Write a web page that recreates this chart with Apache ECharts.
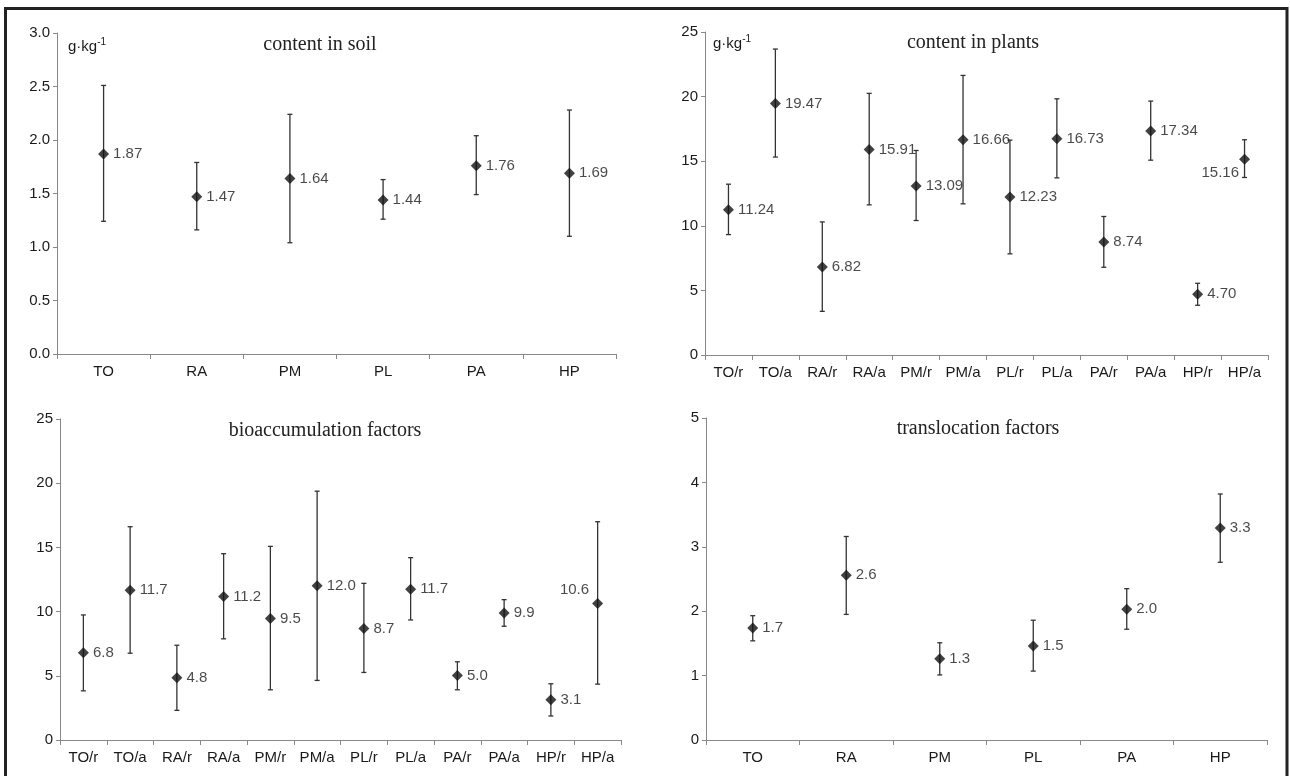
<!DOCTYPE html>
<html>
<head>
<meta charset="utf-8">
<script src="https://cdn.jsdelivr.net/npm/echarts@6/dist/echarts.min.js"></script>
<style>
    html, body { margin: 0; padding: 0; background: #fff; }
    #main { width: 1290px; height: 776px; }
</style>
</head>
<body>
<div id="main"></div>
<script>
// categories
var soilCats = ['TO', 'RA', 'PM', 'PL', 'PA', 'HP'];
var plantCats = ['TO/r', 'TO/a', 'RA/r', 'RA/a', 'PM/r', 'PM/a', 'PL/r', 'PL/a', 'PA/r', 'PA/a', 'HP/r', 'HP/a'];

// content in soil
var soilMean = [1.87, 1.47, 1.64, 1.44, 1.76, 1.69];
var soilLow = [1.24, 1.16, 1.04, 1.26, 1.49, 1.10];
var soilHigh = [2.51, 1.79, 2.24, 1.63, 2.04, 2.28];

// content in plants
var plantMean = [11.24, 19.47, 6.82, 15.91, 13.09, 16.66, 12.23, 16.73, 8.74, 17.34, 4.70, 15.16];
var plantLow = [9.32, 15.32, 3.38, 11.62, 10.41, 11.70, 7.83, 13.71, 6.79, 15.08, 3.85, 13.74];
var plantHigh = [13.22, 23.68, 10.30, 20.25, 15.83, 21.64, 16.63, 19.83, 10.72, 19.65, 5.55, 16.66];

// bioaccumulation factors
var bafMean = [6.79, 11.66, 4.84, 11.17, 9.46, 12.02, 8.68, 11.74, 5.03, 9.90, 3.13, 10.64];
var bafLow = [3.83, 6.76, 2.31, 7.88, 3.91, 4.64, 5.26, 9.35, 3.91, 8.86, 1.87, 4.35];
var bafHigh = [9.74, 16.61, 7.38, 14.51, 15.08, 19.38, 12.20, 14.20, 6.09, 10.93, 4.38, 17.00];

// translocation factors
var tfMean = [1.74, 2.56, 1.26, 1.46, 2.03, 3.29];
var tfLow = [1.54, 1.95, 1.01, 1.07, 1.72, 2.76];
var tfHigh = [1.93, 3.16, 1.51, 1.86, 2.35, 3.82];

var panelTitles = ['content in soil', 'content in plants', 'bioaccumulation factors', 'translocation factors'];

var FONT = 'Liberation Sans, Arial, sans-serif';
var TXT = '#1a1a1a';

var chart = echarts.init(document.getElementById('main'));

function xAxisFor(idx, cats) {
    return {
        type: 'category',
        gridIndex: idx,
        data: cats,
        boundaryGap: true,
        axisLine: { lineStyle: { color: '#888', width: 1 } },
        axisTick: { show: true, length: 5, lineStyle: { color: '#888' } },
        axisLabel: { fontFamily: FONT, fontSize: 15, color: TXT, margin: 10, interval: 0 },
        splitLine: { show: false }
    };
}

function yAxisFor(idx, max, step, digits) {
    return {
        type: 'value',
        gridIndex: idx,
        min: 0,
        max: max,
        interval: step,
        axisLine: { show: true, lineStyle: { color: '#888', width: 1 } },
        axisTick: { show: true, length: 4, lineStyle: { color: '#888' } },
        axisLabel: {
            fontFamily: FONT, fontSize: 15, color: TXT, margin: 7,
            formatter: function (v) { return v.toFixed(digits); }
        },
        splitLine: { show: false }
    };
}

function errorSeries(idx, low, high) {
    return {
        type: 'custom',
        xAxisIndex: idx,
        yAxisIndex: idx,
        data: low.map(function (l, i) { return [i, l, high[i]]; }),
        encode: { x: 0, y: [1, 2] },
        silent: true,
        z: 1,
        renderItem: function (params, api) {
            var lo = api.coord([api.value(0), api.value(1)]);
            var hi = api.coord([api.value(0), api.value(2)]);
            var w = 2.5;
            var st = { stroke: '#333', lineWidth: 1.3 };
            return {
                type: 'group',
                children: [
                    { type: 'line', shape: { x1: lo[0], y1: hi[1], x2: lo[0], y2: lo[1] }, style: st },
                    { type: 'line', shape: { x1: lo[0] - w, y1: hi[1], x2: lo[0] + w, y2: hi[1] }, style: st },
                    { type: 'line', shape: { x1: lo[0] - w, y1: lo[1], x2: lo[0] + w, y2: lo[1] }, style: st }
                ]
            };
        }
    };
}

function meanSeries(idx, means, digits, special) {
    return {
        type: 'scatter',
        xAxisIndex: idx,
        yAxisIndex: idx,
        symbol: 'diamond',
        symbolSize: [11, 11],
        itemStyle: { color: '#111' },
        z: 3,
        label: {
            show: true,
            position: 'right',
            distance: 4,
            fontFamily: FONT,
            fontSize: 15,
            color: TXT,
            formatter: function (p) { return p.value[1].toFixed(digits); }
        },
        data: means.map(function (m, i) {
            var item = { value: [i, m] };
            if (special && special[i]) {
                item.label = special[i];
            }
            return item;
        })
    };
}

function titleText(text, x, y) {
    return {
        type: 'text',
        x: x,
        y: y,
        style: {
            text: text,
            font: '20px "Liberation Serif", "Times New Roman", serif',
            fill: '#222',
            align: 'center',
            verticalAlign: 'middle'
        }
    };
}

function unitText(x, y) {
    return {
        type: 'text',
        x: x,
        y: y,
        style: {
            text: '{a|g·kg}{b|-1}',
            verticalAlign: 'middle',
            rich: {
                a: { fontFamily: FONT, fontSize: 15, fill: TXT, color: TXT },
                b: { fontFamily: FONT, fontSize: 10, fill: TXT, color: TXT, padding: [0, 0, 9, 0] }
            }
        }
    };
}

var option = {
    animation: false,
    backgroundColor: '#fff',
    grid: [
        { left: 57, top: 33, width: 559, height: 321 },
        { left: 705, top: 32, width: 563, height: 323 },
        { left: 60, top: 419, width: 561, height: 321 },
        { left: 706, top: 418, width: 561, height: 322 }
    ],
    xAxis: [
        xAxisFor(0, soilCats),
        xAxisFor(1, plantCats),
        xAxisFor(2, plantCats),
        xAxisFor(3, soilCats)
    ],
    yAxis: [
        yAxisFor(0, 3, 0.5, 1),
        yAxisFor(1, 25, 5, 0),
        yAxisFor(2, 25, 5, 0),
        yAxisFor(3, 5, 1, 0)
    ],
    series: [
        errorSeries(0, soilLow, soilHigh),
        meanSeries(0, soilMean, 2),
        errorSeries(1, plantLow, plantHigh),
        meanSeries(1, plantMean, 2, { 11: { position: 'left', distance: 0, offset: [0, 14] } }),
        errorSeries(2, bafLow, bafHigh),
        meanSeries(2, bafMean, 1, { 11: { position: 'left', distance: 3, offset: [0, -14] } }),
        errorSeries(3, tfLow, tfHigh),
        meanSeries(3, tfMean, 1)
    ],
    graphic: [
        titleText(panelTitles[0], 320, 45),
        titleText(panelTitles[1], 973, 43),
        titleText(panelTitles[2], 325, 431),
        titleText(panelTitles[3], 978, 429),
        unitText(68, 47),
        unitText(713, 44),
        {
            type: 'rect',
            shape: { x: 5.5, y: 8.5, width: 1281.5, height: 800 },
            style: { fill: null, stroke: '#222', lineWidth: 3 },
            silent: true
        }
    ]
};

chart.setOption(option);
</script>
</body>
</html>
